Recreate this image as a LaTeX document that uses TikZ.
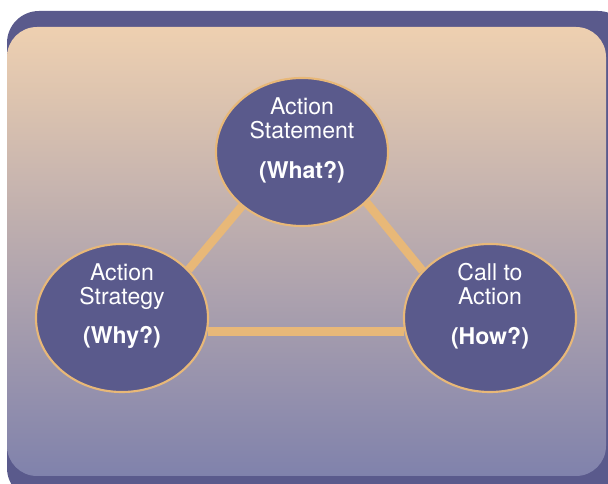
\documentclass[tikz,border=0pt]{standalone}
\usepackage{fontspec}
\setmainfont{TeX Gyre Heros}
\usetikzlibrary{shapes.geometric}
\definecolor{plum}{RGB}{90,90,140}
\definecolor{peach}{RGB}{232,184,120}
\definecolor{bgtop}{RGB}{238,208,176}
\definecolor{bgmid}{RGB}{170,160,178}
\definecolor{bgbot}{RGB}{128,130,172}
\pgfdeclarelayer{bg}
\pgfdeclarelayer{links}
\pgfsetlayers{bg,links,main}

\begin{document}
\begin{tikzpicture}[x=0.025cm,y=-0.025cm]
\tikzstyle{oval}=[ellipse,draw=peach,line width=1.5pt,fill=plum,text=white,minimum width=4.3cm,minimum height=3.7cm,inner sep=0pt,align=center,font=\fontsize{16.4}{17}\selectfont,text height=40.4pt]
\tikzstyle{link}=[draw=peach,line width=6pt]
\useasboundingbox (0,0) rectangle (608,484);
\clip (0,0) rectangle (608,484);
% frame
\begin{pgfonlayer}{bg}
\fill[plum,rounded corners=0.8cm] (7,11) rectangle (630,500);
\shade[top color=bgtop,middle color=bgmid,bottom color=bgbot,rounded corners=0.75cm] (7,27) rectangle (606,476);
\end{pgfonlayer}
% the three parts
\node [oval] (what) at (302,152) {Action\\Statement\\[11pt]\textbf{(What?)}};
\node [oval] (why) at (122,318) {Action\\Strategy\\[11pt]\textbf{(Why?)}};
\node [oval] (how) at (490,318) {Call to\\Action\\[11pt]\textbf{(How?)}};
\begin{pgfonlayer}{links}
\draw [link] (what.222) -- (why.36);
\draw [link] (what.322) -- (how.145);
\draw [link] (why.-9) -- (how.189);
\end{pgfonlayer}
\end{tikzpicture}
\end{document}
